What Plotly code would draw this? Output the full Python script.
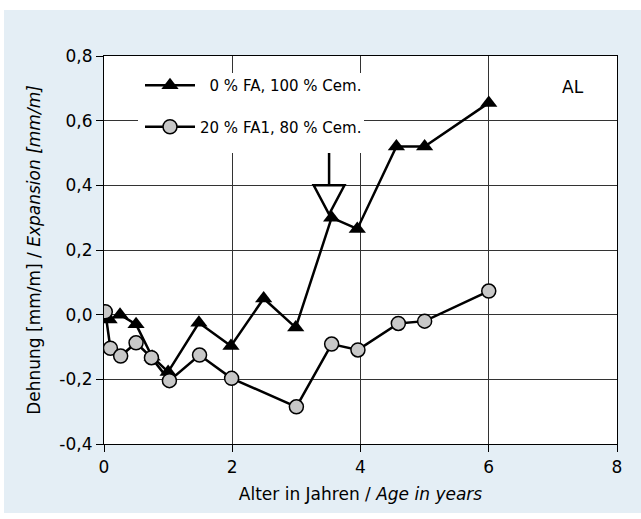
import plotly.graph_objects as go

# Expansion over time, AL concrete
age_ref = [0.0, 0.08, 0.25, 0.5, 0.75, 1.0, 1.48, 1.98, 2.49, 2.99, 3.55, 3.95, 4.56, 5.0, 6.0]
exp_ref = [0.01, -0.015, 0.0, -0.03, -0.13, -0.177, -0.025, -0.097, 0.05, -0.04, 0.30, 0.265, 0.52, 0.52, 0.655]

age_fa = [0.02, 0.1, 0.26, 0.5, 0.74, 1.02, 1.49, 1.99, 3.0, 3.55, 3.96, 4.59, 5.0, 6.0]
exp_fa = [0.009, -0.104, -0.128, -0.087, -0.133, -0.204, -0.125, -0.197, -0.285, -0.091, -0.109, -0.027, -0.02, 0.073]

name_ref = "\u20070 % FA, 100 % Cem."
name_fa = "20 % FA1, 80 % Cem."

x_ticks = [0, 2, 4, 6, 8]
y_ticks = [-0.4, -0.2, 0.0, 0.2, 0.4, 0.6, 0.8]
y_ticktext = ["-0,4", "-0,2", "0,0", "0,2", "0,4", "0,6", "0,8"]

# arrow marking the onset of cracking
arrow_x = 3.51
arrow_top = 0.50
arrow_base = 0.40
arrow_tip = 0.31
arrow_half = 0.24

BLUE = "#e4eef5"
FONT = "DejaVu Sans"

W, H = 641, 519
L, R, T, B = 104, 24, 56, 75
pw, ph = W - L - R, H - T - B


def px_to_paper_x(px):
    return (px - L) / pw


def px_to_paper_y(py):
    return (H - B - py) / ph


fig = go.Figure()

fig.add_trace(go.Scatter(
    x=age_ref, y=exp_ref, name=name_ref, mode="lines+markers",
    line=dict(color="black", width=2.5),
    marker=dict(symbol="triangle-up", size=15, color="black"),
    legendgroup="a",
))
fig.add_trace(go.Scatter(
    x=age_fa, y=exp_fa, name=name_fa, mode="lines+markers",
    line=dict(color="black", width=2.5),
    marker=dict(symbol="circle", size=14, color="#c8c8c8",
                line=dict(color="black", width=1.5)),
    legendgroup="b",
))

shapes = [
    # white page margins around the blue panel
    dict(type="rect", xref="paper", yref="paper", layer="below",
         x0=px_to_paper_x(0), x1=px_to_paper_x(W), y0=px_to_paper_y(0), y1=px_to_paper_y(10),
         fillcolor="white", line=dict(width=0)),
    dict(type="rect", xref="paper", yref="paper", layer="below",
         x0=px_to_paper_x(0), x1=px_to_paper_x(4), y0=px_to_paper_y(0), y1=px_to_paper_y(H),
         fillcolor="white", line=dict(width=0)),
    dict(type="rect", xref="paper", yref="paper", layer="below",
         x0=px_to_paper_x(0), x1=px_to_paper_x(W), y0=px_to_paper_y(513), y1=px_to_paper_y(H),
         fillcolor="white", line=dict(width=0)),
    # legend backing
    dict(type="rect", xref="paper", yref="paper", layer="above",
         x0=px_to_paper_x(138), x1=px_to_paper_x(364), y0=px_to_paper_y(153), y1=px_to_paper_y(73),
         fillcolor="white", line=dict(width=0)),
    # arrow stem and open head
    dict(type="line", xref="x", yref="y", x0=arrow_x, x1=arrow_x, y0=arrow_top, y1=arrow_base,
         line=dict(color="black", width=2.5)),
    dict(type="path", xref="x", yref="y",
         path=f"M{arrow_x - arrow_half},{arrow_base} L{arrow_x + arrow_half},{arrow_base} "
              f"L{arrow_x},{arrow_tip} Z",
         line=dict(color="black", width=2.5), fillcolor="rgba(0,0,0,0)"),
]

fig.update_layout(
    width=W, height=H,
    margin=dict(l=L, r=R, t=T, b=B),
    paper_bgcolor=BLUE, plot_bgcolor="white",
    font=dict(family=FONT, size=17, color="black"),
    shapes=shapes,
    showlegend=True,
    legend=dict(
        x=px_to_paper_x(140), y=px_to_paper_y(69), xanchor="left", yanchor="top",
        bgcolor="rgba(0,0,0,0)", borderwidth=0,
        font=dict(family=FONT, size=15, color="black"),
        traceorder="grouped", tracegroupgap=19, itemwidth=50,
    ),
    annotations=[dict(x=7.32, y=0.705, xref="x", yref="y", text="AL", showarrow=False,
                      font=dict(family=FONT, size=17, color="black"))],
)

fig.update_xaxes(
    range=[0, 8], tickvals=x_ticks, ticktext=[str(v) for v in x_ticks],
    showgrid=True, gridcolor="#333333", gridwidth=1, zeroline=False,
    showline=True, linecolor="black", linewidth=1.2, mirror=True,
    ticks="outside", ticklen=7, tickcolor="black",
    title=dict(text="Alter in Jahren / <i>Age in years</i>", font=dict(size=17), standoff=12),
)
fig.update_yaxes(
    range=[-0.4, 0.8], tickvals=y_ticks, ticktext=y_ticktext,
    showgrid=True, gridcolor="#333333", gridwidth=1, zeroline=False,
    showline=True, linecolor="black", linewidth=1.2, mirror=True,
    ticks="outside", ticklen=7, tickcolor="black",
    title=dict(text="Dehnung [mm/m] / <i>Expansion [mm/m]</i>", font=dict(size=17), standoff=14),
)

fig.write_html("out.html")
